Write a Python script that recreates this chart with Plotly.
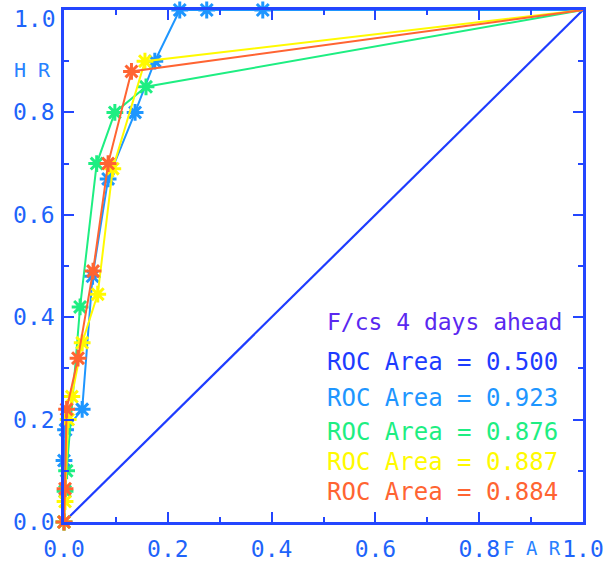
import plotly.graph_objects as go

# ---- data ----
diag_far = [0.0, 1.0]
diag_hr = [0.0, 1.0]

blue_far = [0.0, 0.0, 0.003, 0.035, 0.055, 0.085, 0.137, 0.175, 0.223, 0.275, 0.383, 1.0]
blue_hr = [0.0, 0.12, 0.18, 0.22, 0.48, 0.67, 0.80, 0.90, 1.0, 1.0, 1.0, 1.0]

green_far = [0.0, 0.002, 0.005, 0.031, 0.063, 0.098, 0.158, 1.0]
green_hr = [0.0, 0.06, 0.10, 0.42, 0.70, 0.80, 0.85, 1.0]

yellow_far = [0.0, 0.002, 0.008, 0.015, 0.035, 0.065, 0.094, 0.156, 1.0]
yellow_hr = [0.0, 0.04, 0.20, 0.245, 0.35, 0.445, 0.69, 0.90, 1.0]

orange_far = [0.0, 0.002, 0.005, 0.027, 0.056, 0.085, 0.130, 1.0]
orange_hr = [0.0, 0.065, 0.22, 0.32, 0.49, 0.70, 0.88, 1.0]

title_text = "F/cs 4 days ahead"
roc_labels = ["ROC Area = 0.500", "ROC Area = 0.923", "ROC Area = 0.876",
              "ROC Area = 0.887", "ROC Area = 0.884"]
tick_vals = [0.0, 0.2, 0.4, 0.6, 0.8, 1.0]
x_tick_text = ["0.0", "0.2", "0.4", "0.6", "0.8", "1.0"]
y_tick_text = ["0.0", "0.2", "0.4", "0.6", "0.8", ""]
y_top_label = "1.0"

# ---- styles ----
AXIS_BLUE = "rgb(35,70,255)"
LABEL_BLUE = "rgb(30,100,250)"
C_DIAG = "rgb(30,60,255)"
C_BLUE = "rgb(30,150,255)"
C_GREEN = "rgb(30,238,130)"
C_YELLOW = "rgb(255,250,0)"
C_ORANGE = "rgb(255,100,50)"
C_TITLE = "rgb(90,40,240)"

fig = go.Figure()

fig.add_trace(go.Scatter(x=diag_far, y=diag_hr, mode="lines",
                         line=dict(color=C_DIAG, width=2.2), hoverinfo="skip"))

for xs, ys, col in [(blue_far, blue_hr, C_BLUE), (green_far, green_hr, C_GREEN),
                    (yellow_far, yellow_hr, C_YELLOW), (orange_far, orange_hr, C_ORANGE)]:
    fig.add_trace(go.Scatter(
        x=xs[:-1], y=ys[:-1], mode="markers",
        marker=dict(symbol="asterisk-open", size=14, color=col,
                    line=dict(color=col, width=3)),
        hoverinfo="skip", cliponaxis=False))
    fig.add_trace(go.Scatter(x=xs, y=ys, mode="lines",
                             line=dict(color=col, width=2), hoverinfo="skip"))

FONT = "DejaVu Sans Mono"
text_y = [0.3125, 0.242, 0.176, 0.117, 0.059]
text_cols = [C_DIAG, C_BLUE, C_GREEN, C_YELLOW, C_ORANGE]
fig.add_annotation(x=0.503, y=0.39, xref="x", yref="y", text=title_text,
                   showarrow=False, xanchor="left", yanchor="middle",
                   font=dict(family=FONT, size=23, color=C_TITLE))
for t, yy, c in zip(roc_labels, text_y, text_cols):
    fig.add_annotation(x=0.503, y=yy, xref="x", yref="y", text=t,
                       showarrow=False, xanchor="left", yanchor="middle",
                       font=dict(family=FONT, size=24, color=c))

fig.add_annotation(x=-0.06, y=0.883, xref="paper", yref="paper", text="H R",
                   showarrow=False, xanchor="center", yanchor="middle",
                   font=dict(family=FONT, size=20, color="rgb(40,130,255)"))
fig.add_annotation(x=0.902, y=-0.051, xref="paper", yref="paper", text="F A R",
                   showarrow=False, xanchor="center", yanchor="middle",
                   font=dict(family=FONT, size=19, color="rgb(40,130,255)"))
fig.add_annotation(x=-0.012, y=0.982, xref="paper", yref="paper", text=y_top_label,
                   showarrow=False, xanchor="right", yanchor="middle",
                   font=dict(family=FONT, size=23, color=LABEL_BLUE))

axis_common = dict(
    range=[0, 1], tickvals=tick_vals, automargin=False,
    showgrid=False, zeroline=False, showline=True, linecolor=AXIS_BLUE,
    linewidth=2.5, mirror="ticks", ticks="inside", ticklen=10, tickwidth=2,
    tickcolor=AXIS_BLUE,
    tickfont=dict(family=FONT, size=23, color=LABEL_BLUE),
    minor=dict(tickvals=[0.1, 0.3, 0.5, 0.7, 0.9], ticks="inside", ticklen=5,
               tickwidth=2, tickcolor=AXIS_BLUE),
)
fig.update_xaxes(**axis_common, ticktext=x_tick_text, ticklabelstandoff=5)
fig.update_yaxes(**axis_common, ticktext=y_tick_text, ticklabelstandoff=2)

fig.update_layout(
    width=610, height=563,
    margin=dict(l=64, r=27, t=10, b=41),
    paper_bgcolor="white", plot_bgcolor="white",
    showlegend=False,
)

fig.write_html("out.html", config={"displayModeBar": False},
               post_script="document.body.style.margin='0px';")
